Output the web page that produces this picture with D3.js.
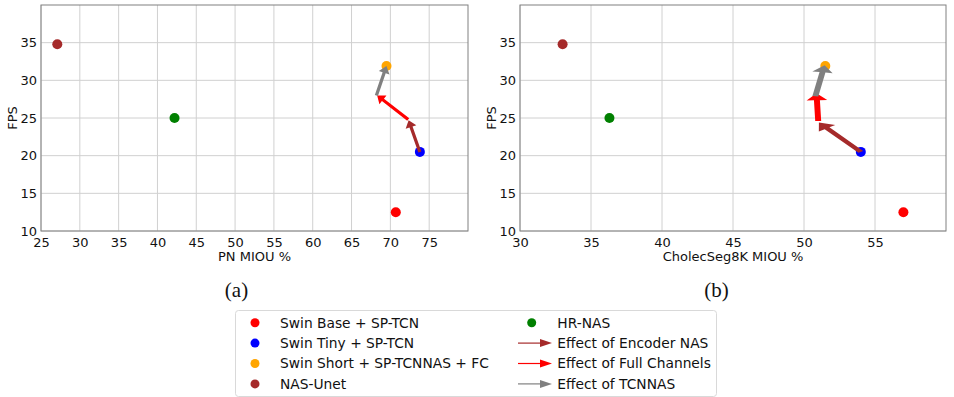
<!DOCTYPE html>
<html><head><meta charset="utf-8">
<script src="https://cdn.jsdelivr.net/npm/d3@7"></script>
<style>body{margin:0;background:#fff}svg{display:block}</style>
</head><body>
<svg id="chart" width="954" height="397"></svg>
<script>
// ---- data ----
const models = ["Swin Base + SP-TCN", "Swin Tiny + SP-TCN", "Swin Short + SP-TCNNAS + FC", "NAS-Unet", "HR-NAS"];
const modelColors = ["#ff0000", "#0000ff", "#ffa500", "#a52a2a", "#008000"];
const fps = [12.5, 20.5, 31.9, 34.8, 25.0];
const pnMiou = [70.7, 73.8, 69.5, 27.1, 42.2];
const cholecMiou = [57.0, 54.0, 51.5, 33.0, 36.3];

const effects = ["Effect of Encoder NAS", "Effect of Full Channels", "Effect of TCNNAS"];
const effectColors = ["#a52a2a", "#ff0000", "#808080"];
const pnArrowX0 = [73.8, 72.3, 68.2];
const pnArrowY0 = [20.5, 24.8, 28.0];
const pnArrowX1 = [72.35, 68.3, 69.5];
const pnArrowY1 = [24.7, 28.0, 31.9];
const chArrowX0 = [54.0, 51.0, 50.8];
const chArrowY0 = [20.5, 24.6, 27.9];
const chArrowX1 = [51.05, 50.88, 51.45];
const chArrowY1 = [24.4, 28.3, 32.0];

const pnXTicks = [25, 30, 35, 40, 45, 50, 55, 60, 65, 70, 75];
const chXTicks = [30, 35, 40, 45, 50, 55];
const yTicks = [10, 15, 20, 25, 30, 35];

const svg = d3.select("#chart");
const FONT = "DejaVu Sans, sans-serif";

function panel(opts) {
  const {x0, x1, y0, y1, xDomain, xTicks, xLabel, xs, ax0, ay0, ax1, ay1, caption} = opts;
  const x = d3.scaleLinear().domain(xDomain).range([x0, x1]);
  const y = d3.scaleLinear().domain([10, 40]).range([y1, y0]);
  const g = svg.append("g");

  // grid
  g.append("g").selectAll("line").data(xTicks).join("line")
    .attr("x1", d => x(d)).attr("x2", d => x(d)).attr("y1", y0).attr("y2", y1)
    .attr("stroke", "#d0d0d0").attr("stroke-width", 1);
  g.append("g").selectAll("line").data(yTicks).join("line")
    .attr("x1", x0).attr("x2", x1).attr("y1", d => y(d)).attr("y2", d => y(d))
    .attr("stroke", "#d0d0d0").attr("stroke-width", 1);

  // frame
  g.append("rect").attr("x", x0).attr("y", y0).attr("width", x1 - x0).attr("height", y1 - y0)
    .attr("fill", "none").attr("stroke", "#808080").attr("stroke-width", 1);

  // axes (labels only)
  const xAxis = d3.axisBottom(x).tickValues(xTicks).tickSize(0).tickPadding(4);
  const xa = g.append("g").attr("transform", `translate(0,${y1})`).call(xAxis);
  xa.select(".domain").remove();
  xa.selectAll("text").attr("font-family", FONT).attr("font-size", 13).attr("fill", "#111")
    .attr("dy", "0.95em");
  const yAxis = d3.axisLeft(y).tickValues(yTicks).tickSize(0).tickPadding(4);
  const ya = g.append("g").attr("transform", `translate(${x0},0)`).call(yAxis);
  ya.select(".domain").remove();
  ya.selectAll("text").attr("font-family", FONT).attr("font-size", 13).attr("fill", "#111");

  g.append("text").attr("x", (x0 + x1) / 2).attr("y", 261).attr("text-anchor", "middle")
    .attr("font-family", FONT).attr("font-size", 13).attr("fill", "#111").text(xLabel);
  g.append("text").attr("transform", `translate(${x0 - 24},${(y0 + y1) / 2}) rotate(-90)`)
    .attr("text-anchor", "middle").attr("font-family", FONT).attr("font-size", 13)
    .attr("fill", "#111").text("FPS");

  // points
  g.append("g").selectAll("circle").data(models).join("circle")
    .attr("cx", (d, i) => x(xs[i])).attr("cy", (d, i) => y(fps[i])).attr("r", 5)
    .attr("fill", (d, i) => modelColors[i]);

  // arrows (matplotlib FancyArrow style, shape in data units)
  const w = 0.42, hw = 1.45, hl = 0.95;
  effects.forEach((e, i) => {
    const dx = ax1[i] - ax0[i], dy = ay1[i] - ay0[i];
    const L = Math.hypot(dx, dy);
    const ux = dx / L, uy = dy / L, nx = -uy, ny = ux;
    const local = [[0, w / 2], [L - hl, w / 2], [L - hl, hw / 2], [L, 0],
                   [L - hl, -hw / 2], [L - hl, -w / 2], [0, -w / 2]];
    const pts = local.map(([s, t]) => [x(ax0[i] + s * ux + t * nx), y(ay0[i] + s * uy + t * ny)]);
    g.append("polygon").attr("points", pts.map(p => p.join(",")).join(" "))
      .attr("fill", effectColors[i]);
  });

  svg.append("text").attr("x", caption[1]).attr("y", 297).attr("text-anchor", "middle")
    .attr("font-family", "Liberation Serif, Times New Roman, serif").attr("font-size", 21)
    .attr("fill", "#111").text(caption[0]);
}

panel({x0: 41, x1: 468, y0: 5, y1: 231, xDomain: [25, 80], xTicks: pnXTicks, xLabel: "PN MIOU %",
  xs: pnMiou, ax0: pnArrowX0, ay0: pnArrowY0, ax1: pnArrowX1, ay1: pnArrowY1, caption: ["(a)", 236.5]});
panel({x0: 520, x1: 946, y0: 5, y1: 231, xDomain: [30, 60], xTicks: chXTicks, xLabel: "CholecSeg8K MIOU %",
  xs: cholecMiou, ax0: chArrowX0, ay0: chArrowY0, ax1: chArrowX1, ay1: chArrowY1, caption: ["(b)", 716.5]});

// legend
const lg = svg.append("g");
lg.append("rect").attr("x", 235.5).attr("y", 310.5).attr("width", 481).attr("height", 86)
  .attr("rx", 3).attr("fill", "#fff").attr("stroke", "#d9d9d9").attr("stroke-width", 1);
const rowY = i => 322.7 + i * 20.4;
const items = models.map((m, i) => ({label: m, type: "dot", color: modelColors[i]}))
  .concat(effects.map((e, i) => ({label: e, type: "arrow", color: effectColors[i]})));
items.forEach((it, k) => {
  const col = Math.floor(k / 4), row = k % 4;
  const cy = rowY(row);
  const mx = col === 0 ? 255 : 531.7;
  const tx = col === 0 ? 280 : 557.3;
  if (it.type === "dot") {
    lg.append("circle").attr("cx", mx).attr("cy", cy).attr("r", 4.5).attr("fill", it.color);
  } else {
    lg.append("line").attr("x1", 518).attr("x2", 541).attr("y1", cy).attr("y2", cy)
      .attr("stroke", it.color).attr("stroke-width", 1.2);
    lg.append("polygon").attr("points", `540,${cy - 4} 552,${cy} 540,${cy + 4}`).attr("fill", it.color);
  }
  lg.append("text").attr("x", tx).attr("y", cy).attr("dy", "0.36em")
    .attr("font-family", FONT).attr("font-size", 13.8).attr("fill", "#111").text(it.label);
});
</script>
</body></html>
